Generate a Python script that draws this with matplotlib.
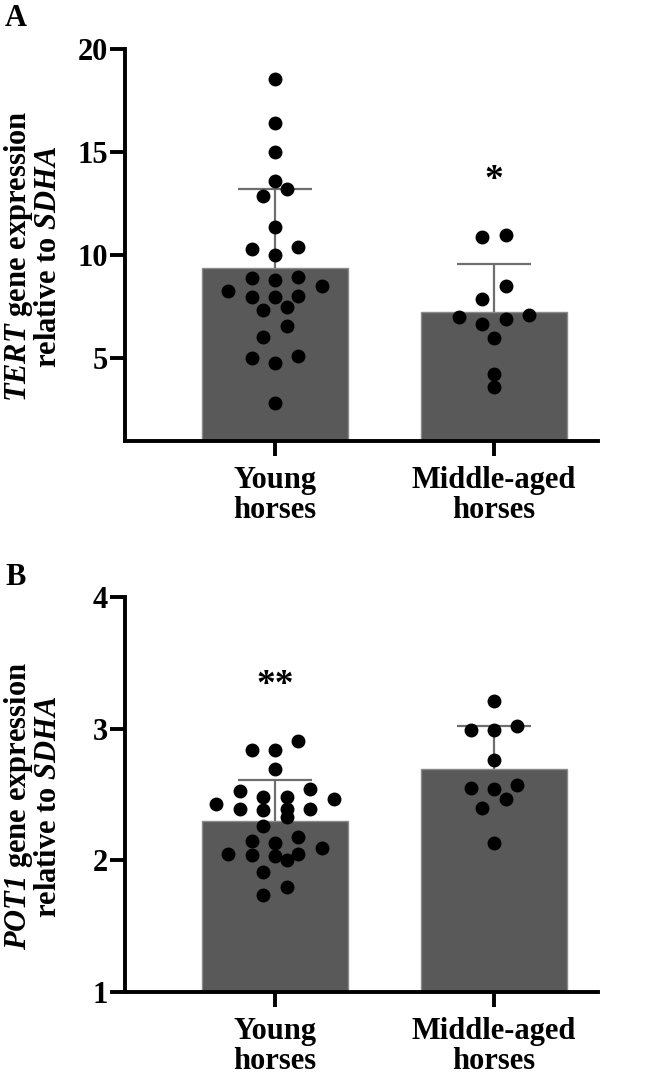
import numpy as np
import matplotlib
matplotlib.use("Agg")
from matplotlib import pyplot as plt

plt.rcParams["font.family"] = ["Liberation Serif", "DejaVu Serif"]
plt.rcParams["font.weight"] = "bold"
plt.rcParams["mathtext.fontset"] = "custom"
plt.rcParams["mathtext.it"] = "Liberation Serif:italic:bold"
#digits in math go through rm, the gene names want them italic too
plt.rcParams["mathtext.rm"] = "Liberation Serif:italic:bold"
plt.rcParams["mathtext.bf"] = "Liberation Serif:bold"

# data
groups = ["Young\nhorses", "Middle-aged\nhorses"]

tert_young = [18.55, 16.4, 15.0, 13.58, 13.23, 12.86, 11.35, 10.31, 10.38, 10.02,
              8.9, 8.79, 8.97, 8.5, 8.05, 8.26, 7.99, 7.99, 7.5, 7.35,
              6.58, 6.06, 5.13, 4.76, 5.02, 2.86]
tert_middle = [10.87, 10.98, 8.53, 7.9, 7.1, 6.9, 6.69, 7.03, 5.99, 4.24, 3.6]
tert_mean = [9.4, 7.26]
tert_sd = [3.8, 2.31]
tert_ticks = [5, 10, 15, 20]
tert_stars = ["", "*"]

pot1_young = [2.91, 2.84, 2.84, 2.69, 2.48, 2.53, 2.54, 2.48, 2.465,
              2.39, 2.39, 2.39, 2.43, 2.38, 2.33, 2.26, 2.15, 2.18, 2.13,
              2.09, 2.04, 2.05, 2.03, 2.0, 2.05, 1.91, 1.795, 1.74]
pot1_middle = [3.21, 2.99, 3.02, 2.99, 2.76, 2.55, 2.54, 2.57, 2.465, 2.40, 2.13]
pot1_mean = [2.30, 2.69]
pot1_sd = [0.31, 0.33]
pot1_ticks = [1, 2, 3, 4]
pot1_stars = ["**", ""]

#simple column-swarm: points closer than one dot go side by side
def swarm(vals, h):
    vals = np.asarray(vals, float)
    idx = np.argsort(vals, kind="stable")
    offs = np.zeros(len(vals))
    grp = [idx[0]]
    allg = []
    for i in idx[1:]:
        if vals[i] - vals[grp[0]] < h:
            grp.append(i)
        else:
            allg.append(grp)
            grp = [i]
    allg.append(grp)
    for g in allg:
        n = len(g)
        if n % 2:
            slots = [0] + [s*k for k in range(1, n//2+1) for s in (-1, 1)]
        else:
            slots = [s*(k-0.5) for k in range(1, n//2+1) for s in (-1, 1)]
        for i, s in zip(g, slots):
            offs[i] = s
    return offs

fig = plt.figure(figsize=(6.45, 10.76), dpi=100)
W, H = 645, 1076

def panel(rect, ylo, yhi, ticks, young, middle, mean, sd, stars, ylabel):
    ax = fig.add_axes(rect)
    ax.set_xlim(-0.685, 1.475)
    ax.set_ylim(ylo, yhi)
    px_per_unit = rect[3]*H/(yhi-ylo)
    h = 13/px_per_unit
    x = np.arange(len(groups))
    ax.bar(x, [m-ylo for m in mean], bottom=ylo, width=0.667, color="#595959",
           edgecolor="#8a8a8a", linewidth=1.0, zorder=1)
    top = np.array(mean)+np.array(sd)
    ax.vlines(x, mean, top, color="#6e6e6e", lw=1.6, zorder=2)
    ax.hlines(top, x-0.167, x+0.167, color="#6e6e6e", lw=1.6, zorder=2)
    for k, pts in enumerate([young, middle]):
        xs = k + 0.107*swarm(pts, h)
        ax.plot(xs, pts, "o", color="black", ms=9, mec="black", zorder=3,
                clip_on=False)
        if stars[k]:
            ax.text(k, max(pts) + 55/px_per_unit, stars[k], ha="center", va="center",
                    fontsize=27, fontweight="bold")
    ax.spines["top"].set_visible(False)
    ax.spines["right"].set_visible(False)
    ax.spines["left"].set_linewidth(2.8)
    ax.spines["bottom"].set_linewidth(2.8)
    ax.set_yticks(ticks)
    ax.set_xticks(x)
    ax.set_xticklabels(groups, linespacing=1.05)
    ax.tick_params(axis="y", length=10.5, width=2.8, pad=1.5, labelsize=22)
    ax.tick_params(axis="x", length=11, width=2.8, pad=7, labelsize=22)
    ax.set_ylabel(ylabel, fontsize=22, fontweight="bold", linespacing=0.95)
    ax.yaxis.set_label_coords(-0.132, 0.47)
    return ax

panel([125/W, 1-441/H, 473/W, 392/H], 1, 20, tert_ticks, tert_young, tert_middle,
      tert_mean, tert_sd, tert_stars, "$TERT$ gene expression\nrelative to $SDHA$")
panel([125/W, 1-992/H, 473/W, 395/H], 1, 4, pot1_ticks, pot1_young, pot1_middle,
      pot1_mean, pot1_sd, pot1_stars, "$POT1$ gene expression\nrelative to $SDHA$")

fig.text(5/W, 1-4/H, "A", fontsize=22, fontweight="bold", va="top")
fig.text(5/W, 1-563/H, "B", fontsize=22, fontweight="bold", va="top")

fig.savefig("out.png", dpi=100)
